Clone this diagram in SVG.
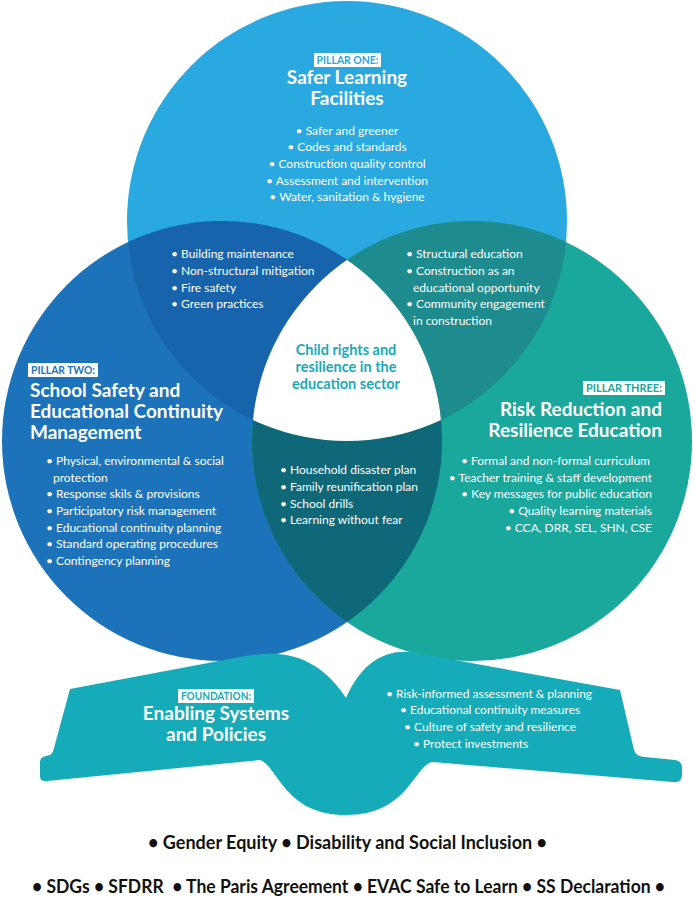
<svg xmlns="http://www.w3.org/2000/svg" width="695" height="900" viewBox="0 0 695 900">
<defs>
<clipPath id="cT"><circle cx="347" cy="221" r="220"/></clipPath>
<clipPath id="cL"><circle cx="222" cy="441" r="220"/></clipPath>
<clipPath id="cR"><circle cx="472" cy="441" r="220"/></clipPath>
<style>
text{font-family:Lato,"Liberation Sans",sans-serif;}
.b{font-size:12px;fill:#ffffff;}
.t{font-size:19px;font-weight:bold;fill:#ffffff;}
.lab{font-size:10.5px;font-weight:bold;}
.c{text-anchor:middle;}
.r{text-anchor:end;}
.ctr{font-size:14.5px;font-weight:bold;fill:#1aa9b8;text-anchor:middle;}
.foot{font-size:18px;font-weight:bold;fill:#111111;}
</style>
</defs>
<rect width="695" height="900" fill="#ffffff"/>

<g id="circles">
<circle cx="347" cy="221" r="220" fill="#2aa8e0"/>
<circle cx="222" cy="441" r="220" fill="#1c73b9"/>
<circle cx="472" cy="441" r="220" fill="#1aa79c"/>
<circle cx="222" cy="441" r="220" fill="#1764ad" clip-path="url(#cT)"/>
<circle cx="472" cy="441" r="220" fill="#1e8b8e" clip-path="url(#cT)"/>
<circle cx="222" cy="441" r="220" fill="#0e6878" clip-path="url(#cR)"/>
<g clip-path="url(#cL)"><circle cx="347" cy="221" r="220" fill="#ffffff" clip-path="url(#cR)"/></g>
</g>

<g id="foundation">
<path d="M70,689 L240,657 C275,650 315,650 346,698 C362,662 385,650 410,652 L620,690 L634,750 Q636,757 645,757 L675,760 Q682,761 682,768 L682,775 Q682,783 673,782 L432,762 C414,766 408,815 346,815 C284,815 278,766 260,760 L47,781 Q40,782 40,776 L40,762 Q40,757 46,756 L50,755 Q53,753 54,748 Z" fill="#16abb9"/>
<rect x="178" y="689" width="76" height="14" fill="#ffffff"/>
<text x="216" y="700" class="lab c" fill="#16abb9" textLength="70" lengthAdjust="spacingAndGlyphs">FOUNDATION:</text>
<text x="216" y="720" class="t c">Enabling Systems</text>
<text x="216" y="741" class="t c">and Policies</text>
<text x="386" y="698" class="b">• Risk-informed assessment &amp; planning</text>
<text x="400" y="714" class="b">• Educational continuity measures</text>
<text x="404" y="731" class="b">• Culture of safety and resilience</text>
<text x="413" y="748" class="b">• Protect investments</text>
</g>

<g id="pillar-one">
<rect x="314" y="53" width="67" height="14" fill="#ffffff"/>
<text x="347.5" y="64" class="lab c" fill="#2aa8e0" textLength="62" lengthAdjust="spacingAndGlyphs">PILLAR ONE:</text>
<text x="347" y="84" class="t c">Safer Learning</text>
<text x="347" y="105" class="t c">Facilities</text>
<text x="347" y="135" class="b c">• Safer and greener</text>
<text x="347" y="151" class="b c">• Codes and standards</text>
<text x="347" y="168" class="b c">• Construction quality control</text>
<text x="347" y="185" class="b c">• Assessment and intervention</text>
<text x="347" y="201" class="b c">• Water, sanitation &amp; hygiene</text>
</g>

<g id="pillar-one-two">
<text x="171" y="258" class="b">• Building maintenance</text>
<text x="171" y="275" class="b">• Non-structural mitigation</text>
<text x="171" y="292" class="b">• Fire safety</text>
<text x="171" y="308" class="b">• Green practices</text>
</g>

<g id="pillar-one-three">
<text x="406" y="258" class="b">• Structural education</text>
<text x="406" y="275" class="b">• Construction as an</text>
<text x="413" y="292" class="b">educational opportunity</text>
<text x="406" y="308" class="b">• Community engagement</text>
<text x="413" y="325" class="b">in construction</text>
</g>

<g id="center">
<text x="346" y="355" class="ctr">Child rights and</text>
<text x="346" y="372" class="ctr">resilience in the</text>
<text x="346" y="389" class="ctr">education sector</text>
</g>

<g id="pillar-two">
<rect x="28" y="363" width="70" height="14" fill="#ffffff"/>
<text x="31" y="374" class="lab" fill="#1c73b9" textLength="64" lengthAdjust="spacingAndGlyphs">PILLAR TWO:</text>
<text x="30" y="397" class="t">School Safety and</text>
<text x="30" y="418" class="t">Educational Continuity</text>
<text x="30" y="439" class="t">Management</text>
<text x="46" y="465" class="b">• Physical, environmental &amp; social</text>
<text x="53" y="482" class="b">protection</text>
<text x="46" y="498" class="b">• Response skils &amp; provisions</text>
<text x="46" y="515" class="b">• Participatory risk management</text>
<text x="46" y="532" class="b">• Educational continuity planning</text>
<text x="46" y="548" class="b">• Standard operating procedures</text>
<text x="46" y="565" class="b">• Contingency planning</text>
</g>

<g id="pillar-two-three">
<text x="280" y="474" class="b">• Household disaster plan</text>
<text x="280" y="491" class="b">• Family reunification plan</text>
<text x="280" y="508" class="b">• School drills</text>
<text x="280" y="524" class="b">• Learning without fear</text>
</g>

<g id="pillar-three">
<rect x="583" y="381" width="82" height="14" fill="#ffffff"/>
<text x="662" y="392" class="lab r" fill="#1aa79c" textLength="76" lengthAdjust="spacingAndGlyphs">PILLAR THREE:</text>
<text x="662" y="416" class="t r">Risk Reduction and</text>
<text x="662" y="437" class="t r">Resilience Education</text>
<text x="650" y="465" class="b r">• Formal and non-formal curriculum</text>
<text x="652" y="482" class="b r">• Teacher training &amp; staff development</text>
<text x="652" y="498" class="b r">• Key messages for public education</text>
<text x="652" y="515" class="b r">• Quality learning materials</text>
<text x="652" y="532" class="b r">• CCA, DRR, SEL, SHN, CSE</text>
</g>

<g id="footer">
<text x="148" y="849" class="foot" textLength="399" lengthAdjust="spacingAndGlyphs">• Gender Equity • Disability and Social Inclusion •</text>
<text x="32" y="893" class="foot" textLength="633" lengthAdjust="spacingAndGlyphs" xml:space="preserve">• SDGs • SFDRR  • The Paris Agreement • EVAC Safe to Learn • SS Declaration •</text>
</g>
</svg>
